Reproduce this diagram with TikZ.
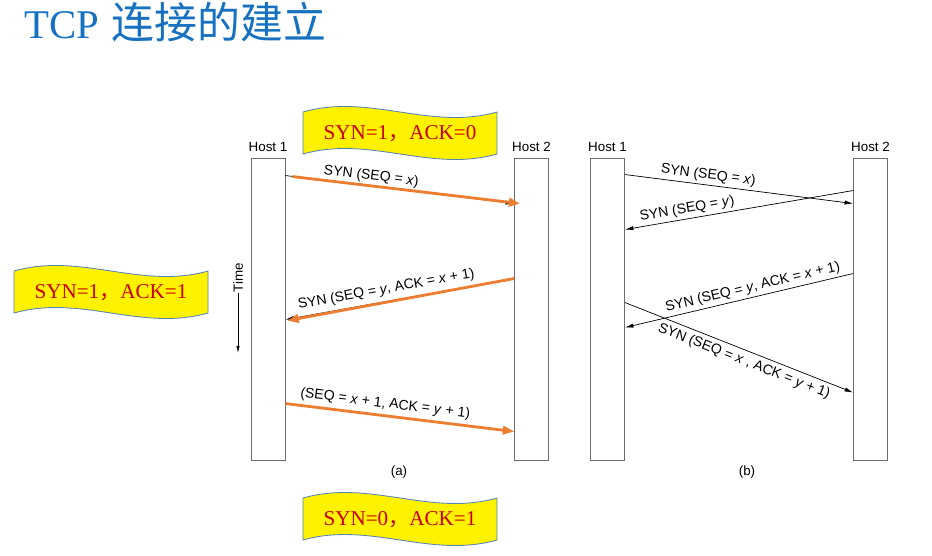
\documentclass[tikz,border=0pt]{standalone}
\usepackage{fontspec}
\setmainfont{Liberation Serif}
\setsansfont{Liberation Sans}
\newfontfamily\cjk{Noto Sans CJK SC}
\usepackage{tikz}
\usetikzlibrary{arrows.meta,positioning,calc}
\definecolor{titleblue}{RGB}{22,114,192}
\definecolor{flagred}{RGB}{200,0,0}
\definecolor{flagedge}{RGB}{84,130,185}
\definecolor{segorange}{RGB}{237,125,49}
\definecolor{bargray}{RGB}{110,110,110}

\begin{document}
\begin{tikzpicture}[
  x=0.025cm,y=-0.025cm,
  hostbar/.style={rectangle,draw=bargray,fill=white,line width=0.6pt,inner sep=0pt,
                  minimum width=0.85cm,minimum height=7.55cm},
  hostlbl/.style={font=\sffamily\fontsize{9.5}{11}\selectfont,inner sep=0pt},
  msg/.style={-{Latex[length=6pt,width=3pt]},line width=0.5pt,black},
  hot/.style={-{Triangle[length=8pt,width=6pt]},segorange,line width=2pt},
  lbl/.style={font=\sffamily\fontsize{10}{12}\selectfont,sloped,inner sep=2pt},
  banner/.style={draw=flagedge,fill=yellow,line width=0.6pt},
  flagtxt/.style={font=\fontsize{15}{18}\selectfont,color=flagred,inner sep=0pt},
]
\useasboundingbox (0,0) rectangle (932,555);
\node[anchor=base west,text=titleblue,inner sep=0pt] (title) at (24,38)
  {\fontsize{29}{34}\selectfont TCP\hspace{9pt}{\cjk\fontsize{30.5}{34}\selectfont 连接的建立}};

\node[hostbar] (a1) at (268,309) {};
\node[hostbar] (a2) at (531.5,309) {};
\node[hostlbl,above=4pt of a1] (a1lbl) {Host 1};
\node[hostlbl,above=4pt of a2] (a2lbl) {Host 2};
\draw[msg] ($(a1.north east)+(0,18)$) -- node[lbl,pos=0.37,above]{SYN (SEQ = \textit{x})} ($(a2.north west)+(0,46)$);
\draw[hot] ($(a1.north east)+(7,19)$) -- ($(a2.north west)+(6,46)$);
\draw[msg] ($(a2.north west)+(0,121)$) -- node[lbl,pos=0.55,above,inner sep=3.5pt]{SYN (SEQ = \textit{y}, ACK = \textit{x} + 1)} ($(a1.north east)+(0,162)$);
\draw[hot] ($(a2.north west)+(0,121)$) -- ($(a1.north east)+(2,163)$);
\draw[msg] ($(a1.north east)+(0,246)$) -- node[lbl,pos=0.43,above,inner sep=3.5pt]{(SEQ = \textit{x} + 1, ACK = \textit{y} + 1)} ($(a2.north west)+(0,274)$);
\draw[hot] ($(a1.north east)+(0,246)$) -- ($(a2.north west)+(0,274)$);
\node[hostlbl,rotate=90] (time) at (238,278) {Time};
\coordinate (timeend) at (238,353);
\draw[-{Latex[length=5pt,width=2.5pt]},line width=0.5pt] (time.west) -- (timeend);
\node[hostlbl] (capa) at (399,472) {(a)};

\node[hostbar] (b1) at (607.5,309) {};
\node[hostbar] (b2) at (870.5,309) {};
\node[hostlbl,above=4pt of b1] (b1lbl) {Host 1};
\node[hostlbl,above=4pt of b2] (b2lbl) {Host 2};
\draw[msg] ($(b1.north east)+(0,17)$) -- node[lbl,pos=0.36,above]{SYN (SEQ = \textit{x})} ($(b2.north west)+(0,46)$);
\draw[msg] ($(b2.north west)+(0,33)$) -- node[lbl,pos=0.72,above]{SYN (SEQ = \textit{y})} ($(b1.north east)+(0,72)$);
\draw[msg] ($(b2.north west)+(0,116)$) -- node[lbl,pos=0.43,above]{SYN (SEQ = \textit{y}, ACK = \textit{x} + 1)} ($(b1.north east)+(0,170)$);
\draw[msg] ($(b1.north east)+(0,145)$) -- node[lbl,pos=0.54,below,inner sep=3pt]{SYN (SEQ = \textit{x} , ACK = \textit{y} + 1)} ($(b2.north west)+(0,235)$);
\node[hostlbl] (capb) at (747,472) {(b)};

\foreach \cx/\cy/\syn/\ack/\nm in {400/133/1/0/flagA,111/292/1/1/flagB,400/519/0/1/flagC}{
  \draw[banner] (\cx-97,\cy-21) .. controls (\cx-30,\cy-40) and (\cx+30,\cy-2) .. (\cx+97,\cy-21)
    -- (\cx+97,\cy+21) .. controls (\cx+30,\cy+40) and (\cx-30,\cy+2) .. (\cx-97,\cy+21) -- cycle;
  \node[flagtxt] (\nm) at (\cx,\cy+1) {SYN=\syn{\cjk ，}ACK=\ack};
}
\end{tikzpicture}
\end{document}
